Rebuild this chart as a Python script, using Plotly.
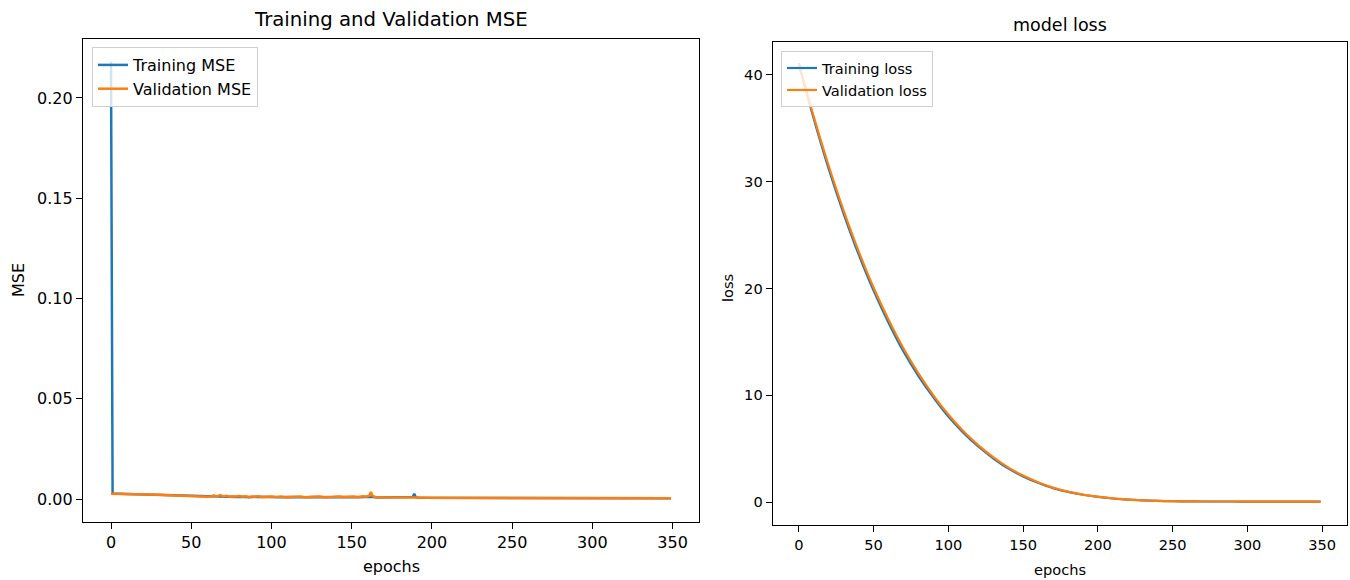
import plotly.graph_objects as go

# ---------------- data ----------------
# Left panel: Training / Validation MSE
train_mse_epochs = [0, 1, 10, 20, 30, 40, 50, 58, 62, 66, 70, 74, 78, 82, 86, 90, 94, 98,
                    102, 106, 110, 114, 118, 122, 126, 130, 134, 138, 142, 146, 150, 154,
                    158, 162, 166, 170, 174, 178, 182, 186, 188, 189, 190, 192, 200, 220,
                    240, 260, 280, 300, 320, 340, 349]
train_mse = [0.218, 0.0027, 0.0025, 0.0023, 0.0021, 0.0018, 0.0015, 0.0012, 0.0011, 0.0012,
             0.0010, 0.0011, 0.0010, 0.0011, 0.0009, 0.0011, 0.0010, 0.0009,
             0.0010, 0.0009, 0.0010, 0.0009, 0.0010, 0.0009, 0.0010, 0.0009, 0.0010,
             0.0009, 0.0010, 0.0009, 0.0010, 0.0009, 0.0010, 0.0011, 0.0008, 0.0008,
             0.0007, 0.0008, 0.0007, 0.0007, 0.0010, 0.0026, 0.0008, 0.0006, 0.0006,
             0.0005, 0.0005, 0.0005, 0.0005, 0.0004, 0.0004, 0.0004, 0.0004]

val_mse_epochs = [0, 10, 20, 30, 40, 50, 57, 60, 63, 64, 66, 68, 70, 72, 74, 76, 78, 80, 82,
                  84, 86, 88, 90, 92, 94, 96, 98, 100, 103, 106, 109, 112, 115, 118, 121,
                  124, 127, 130, 133, 136, 139, 142, 145, 148, 151, 154, 157, 159, 161,
                  162, 163, 165, 170, 180, 190, 200, 220, 240, 260, 280, 300, 320, 340, 349]
val_mse = [0.0026, 0.0025, 0.0024, 0.0021, 0.0018, 0.0015, 0.0012, 0.0011, 0.0014, 0.0018,
           0.0012, 0.0019, 0.0013, 0.0016, 0.0011, 0.0014, 0.0012, 0.0015, 0.0011,
           0.0014, 0.0010, 0.0013, 0.0011, 0.0014, 0.0010, 0.0012, 0.0011, 0.0013, 0.0010,
           0.0012, 0.0009, 0.0011, 0.0010, 0.0012, 0.0009, 0.0011, 0.0010, 0.0012,
           0.0009, 0.0011, 0.0010, 0.0012, 0.0010, 0.0011, 0.0013, 0.0010, 0.0014, 0.0011,
           0.0016, 0.0035, 0.0015, 0.0009, 0.0008, 0.0007, 0.0007, 0.0006, 0.0006,
           0.0005, 0.0005, 0.0005, 0.0004, 0.0004, 0.0004, 0.0004]

# Right panel: model loss (read every 10 epochs)
loss_epochs = [0, 10, 20, 30, 40, 50, 60, 70, 80, 90, 100, 110, 120, 130, 140, 150, 160,
               170, 180, 190, 200, 210, 220, 230, 240, 250, 260, 270, 280, 290, 300, 310,
               320, 330, 340, 349]
train_loss = [41.1, 35.9, 31.2, 27.0, 23.2, 19.8, 16.8, 14.1, 11.8, 9.8, 8.0, 6.5, 5.2,
              4.1, 3.15, 2.4, 1.8, 1.3, 0.95, 0.68, 0.48, 0.33, 0.22, 0.15, 0.11, 0.08, 0.06,
              0.05, 0.05, 0.05, 0.04, 0.04, 0.04, 0.04, 0.04, 0.04]
val_loss = [41.0, 36.1, 31.5, 27.3, 23.5, 20.1, 17.1, 14.4, 12.05, 10.0, 8.2, 6.65, 5.33,
            4.2, 3.25, 2.48, 1.86, 1.35, 0.98, 0.7, 0.5, 0.34, 0.23, 0.16, 0.11, 0.08, 0.06,
            0.05, 0.05, 0.05, 0.04, 0.04, 0.04, 0.04, 0.04, 0.04]

x_ticks = [0, 50, 100, 150, 200, 250, 300, 350]
mse_ticks = [0.0, 0.05, 0.10, 0.15, 0.20]
loss_ticks = [0, 10, 20, 30, 40]

BLUE = "#1f77b4"
ORANGE = "#ff7f0e"
FONT = "DejaVu Sans"
W, H = 1350, 580

fig = go.Figure()
fig.add_trace(go.Scatter(x=train_mse_epochs, y=train_mse, mode="lines", name="Training MSE",
                         line=dict(color=BLUE, width=2.5), xaxis="x", yaxis="y", legend="legend"))
fig.add_trace(go.Scatter(x=val_mse_epochs, y=val_mse, mode="lines", name="Validation MSE",
                         line=dict(color=ORANGE, width=2.5), xaxis="x", yaxis="y", legend="legend"))
fig.add_trace(go.Scatter(x=loss_epochs, y=train_loss, mode="lines", name="Training loss",
                         line=dict(color=BLUE, width=2.2, shape="spline"), xaxis="x2", yaxis="y2",
                         legend="legend2"))
fig.add_trace(go.Scatter(x=loss_epochs, y=val_loss, mode="lines", name="Validation loss",
                         line=dict(color=ORANGE, width=2.2, shape="spline"), xaxis="x2", yaxis="y2",
                         legend="legend2"))

axis_common = dict(showline=True, mirror=True, linecolor="black", linewidth=1.2,
                   ticks="outside", ticklen=6, tickcolor="black", tickwidth=1.2,
                   showgrid=False, zeroline=False)

L1, R1, T1, B1 = 83, 699, 39, 522
L2, R2, T2, B2 = 772.7, 1346.7, 42, 525

fig.update_layout(
    width=W, height=H,
    margin=dict(l=0, r=0, t=0, b=0),
    paper_bgcolor="white", plot_bgcolor="white",
    font=dict(family=FONT, color="black"),
    xaxis=dict(domain=[L1 / W, R1 / W], range=[-17.45, 366.45], tickvals=x_ticks,
               anchor="y", tickfont=dict(size=16), **axis_common),
    yaxis=dict(domain=[1 - B1 / H, 1 - T1 / H], range=[-0.01147, 0.2294], tickvals=mse_ticks,
               tickformat=".2f", anchor="x", tickfont=dict(size=16), **axis_common),
    xaxis2=dict(domain=[L2 / W, R2 / W], range=[-17.45, 366.45], tickvals=x_ticks,
                anchor="y2", tickfont=dict(size=14.6), **axis_common),
    yaxis2=dict(domain=[1 - B2 / H, 1 - T2 / H], range=[-2.15, 43.09], tickvals=loss_ticks,
                anchor="x2", tickfont=dict(size=14.6), **axis_common),
    legend=dict(x=92 / W, y=1 - 47 / H, xanchor="left", yanchor="top",
                bgcolor="rgba(255,255,255,0.8)", bordercolor="#d0d0d0", borderwidth=1,
                font=dict(size=16, family=FONT)),
    legend2=dict(x=781 / W, y=1 - 51 / H, xanchor="left", yanchor="top",
                 bgcolor="rgba(255,255,255,0.8)", bordercolor="#d0d0d0", borderwidth=1,
                 font=dict(size=14.6, family=FONT)),
    annotations=[
        dict(text="Training and Validation MSE", x=(L1 + R1) / 2 / W, y=1 - 20 / H,
             xref="paper", yref="paper", showarrow=False, xanchor="center", yanchor="middle",
             font=dict(size=19.7)),
        dict(text="model loss", x=(L2 + R2) / 2 / W, y=1 - 25 / H,
             xref="paper", yref="paper", showarrow=False, xanchor="center", yanchor="middle",
             font=dict(size=17.5)),
        dict(text="epochs", x=(L1 + R1) / 2 / W, y=1 - 566 / H,
             xref="paper", yref="paper", showarrow=False, xanchor="center", yanchor="middle",
             font=dict(size=16)),
        dict(text="epochs", x=(L2 + R2) / 2 / W, y=1 - 569 / H,
             xref="paper", yref="paper", showarrow=False, xanchor="center", yanchor="middle",
             font=dict(size=14.6)),
        dict(text="MSE", x=18 / W, y=1 - 280 / H, textangle=-90,
             xref="paper", yref="paper", showarrow=False, xanchor="center", yanchor="middle",
             font=dict(size=16)),
        dict(text="loss", x=727 / W, y=1 - 288 / H, textangle=-90,
             xref="paper", yref="paper", showarrow=False, xanchor="center", yanchor="middle",
             font=dict(size=14.6)),
    ],
)

fig.write_html(
    "out.html",
    config={"displayModeBar": False},
    post_script="document.body.style.margin='0';document.body.style.overflow='hidden';",
)
